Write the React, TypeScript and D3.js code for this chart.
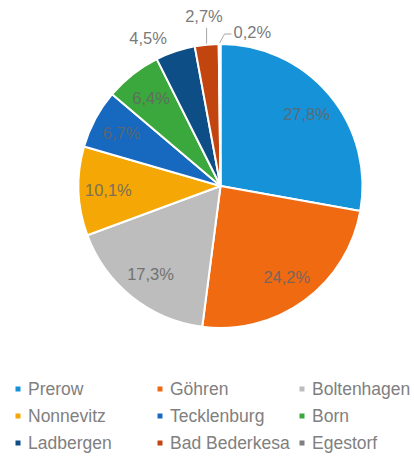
import React from "react";
import * as d3 from "d3";

const categories = ["Prerow", "Göhren", "Boltenhagen", "Nonnevitz", "Tecklenburg", "Born", "Ladbergen", "Bad Bederkesa", "Egestorf"];
const values = [27.8, 24.2, 17.3, 10.1, 6.7, 6.4, 4.5, 2.7, 0.2];
const labels = ["27,8%", "24,2%", "17,3%", "10,1%", "6,7%", "6,4%", "4,5%", "2,7%", "0,2%"];
const colors = ["#1592d8", "#f06a12", "#bdbdbd", "#f5a805", "#1768bf", "#3aa83c", "#0e4e86", "#c2440f", "#7f7f7f"];

const W = 414;
const H = 462;
const cx = 220.5;
const cy = 186;
const R = 142;

export default function App() {
  const pie = d3.pie<number>().sort(null).value((d) => d);
  const arcs = pie(values);
  const arcGen = d3.arc<d3.PieArcDatum<number>>().innerRadius(0).outerRadius(R);
  const inner = d3.arc<d3.PieArcDatum<number>>().innerRadius(R * 0.79).outerRadius(R * 0.79);

  const legendCols = [18, 160, 302];
  const legendRows = [389, 416, 443];

  const polar = (a: number, r: number) => [Math.sin(a) * r, -Math.cos(a) * r];

  return (
    <svg width={W} height={H} style={{ position: "absolute", left: 0, top: 0, background: "#fff" }} fontFamily="'Liberation Sans', Arial, sans-serif">
      <g transform={`translate(${cx},${cy})`}>
        {arcs.map((a, i) => (
          <path key={i} d={arcGen(a) || ""} fill={colors[i]} stroke="#fff" strokeWidth={2} strokeLinejoin="round" />
        ))}
        {arcs.map((a, i) => {
          if (i >= 6) return null;
          const [x, y] = inner.centroid(a);
          return (
            <text key={"l" + i} x={x} y={y} textAnchor="middle" dominantBaseline="central" fontSize={16.5} fill="#666" opacity={0.85}>
              {labels[i]}
            </text>
          );
        })}
        {(() => {
          const a = arcs[6];
          const mid = (a.startAngle + a.endAngle) / 2;
          const [x, y] = polar(mid, R + 14);
          return (
            <text x={x - 4} y={y} textAnchor="end" dominantBaseline="central" fontSize={16.5} fill="#7b7b7b">
              {labels[6]}
            </text>
          );
        })()}
        {(() => {
          const a = arcs[7];
          const mid = (a.startAngle + a.endAngle) / 2;
          const [x1, y1] = polar(mid, R + 1);
          const [x2, y2] = polar(mid, R + 17);
          const [tx, ty] = polar(mid, R + 28);
          return (
            <g>
              <line x1={x1} y1={y1} x2={x1} y2={y2} stroke="#a6a6a6" strokeWidth={1} />
              <text x={tx} y={ty - 1} textAnchor="middle" dominantBaseline="central" fontSize={16.5} fill="#7b7b7b">
                {labels[7]}
              </text>
            </g>
          );
        })()}
        {(() => {
          const a = arcs[8];
          const mid = (a.startAngle + a.endAngle) / 2;
          const [x1, y1] = polar(mid, R + 1);
          const [x2, y2] = polar(mid, R + 10);
          return (
            <g>
              <polyline points={`${x1},${y1} ${x2 + 5},${y2} ${x2 + 12},${y2}`} fill="none" stroke="#a6a6a6" strokeWidth={1} />
              <text x={x2 + 14} y={y2 - 2} textAnchor="start" dominantBaseline="central" fontSize={16.5} fill="#7b7b7b">
                {labels[8]}
              </text>
            </g>
          );
        })()}
      </g>
      {categories.map((c, i) => {
        const x = legendCols[i % 3];
        const y = legendRows[Math.floor(i / 3)];
        return (
          <g key={"lg" + i}>
            <rect x={x - 2.5} y={y - 2.5} width={5} height={5} fill={colors[i]} />
            <text x={x + 10} y={y} dominantBaseline="central" fontSize={17.5} fill="#808080">
              {c}
            </text>
          </g>
        );
      })}
    </svg>
  );
}
